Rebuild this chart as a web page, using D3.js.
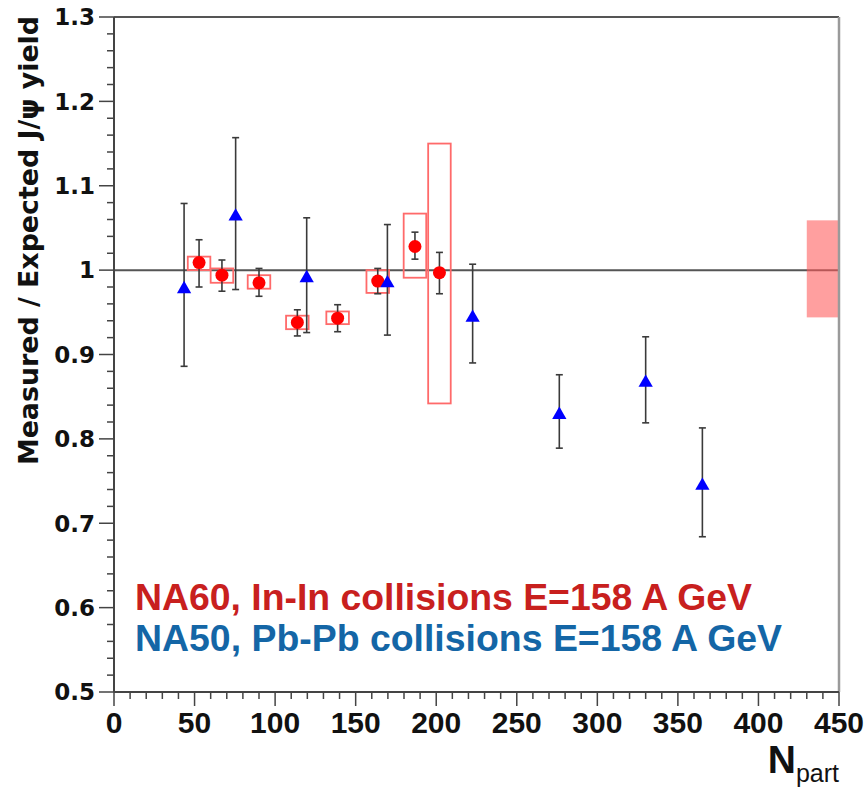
<!DOCTYPE html>
<html>
<head>
<meta charset="utf-8">
<script src="https://cdn.jsdelivr.net/npm/d3@7"></script>
<style>
  body { margin: 0; background: #fff; }
  svg { display: block; }
</style>
</head>
<body>
<div id="chart"></div>
<script>
// NA50 Pb-Pb points (blue triangles)
const na50Npart = [43.5, 75.5, 119.6, 169.7, 222.6, 276.4, 330, 365.2];
const na50Ratio = [0.980, 1.066, 0.993, 0.987, 0.946, 0.831, 0.869, 0.747];
const na50ErrHi = [1.079, 1.157, 1.062, 1.054, 1.007, 0.876, 0.921, 0.813];
const na50ErrLo = [0.886, 0.977, 0.926, 0.923, 0.890, 0.789, 0.819, 0.684];

// NA60 In-In points (red circles) with systematic boxes
const na60Npart = [52.8, 67, 90, 113.8, 138.8, 163.7, 186.8, 202];
const na60Ratio = [1.009, 0.994, 0.985, 0.938, 0.943, 0.987, 1.028, 0.997];
const na60ErrHi = [1.036, 1.012, 1.002, 0.953, 0.959, 1.002, 1.045, 1.021];
const na60ErrLo = [0.980, 0.975, 0.969, 0.922, 0.927, 0.972, 1.013, 0.972];
const na60SysHi = [1.016, 1.002, 0.994, 0.946, 0.951, 1.000, 1.067, 1.150];
const na60SysLo = [1.000, 0.985, 0.978, 0.930, 0.936, 0.973, 0.991, 0.842];

// global normalisation uncertainty band
const bandNpart = [430, 450];
const bandRatio = [0.944, 1.059];

const xTicks = [0, 50, 100, 150, 200, 250, 300, 350, 400, 450];
const yTicks = [0.5, 0.6, 0.7, 0.8, 0.9, 1, 1.1, 1.2, 1.3];
const legendLines = [
  'NA60, In-In collisions E=158 A GeV',
  'NA50, Pb-Pb collisions E=158 A GeV'
];

const W = 867, H = 788;
const margin = { top: 17, right: 28, bottom: 96, left: 114 };
const iw = W - margin.left - margin.right;
const ih = H - margin.top - margin.bottom;

const svg = d3.select('#chart').append('svg')
  .attr('width', W)
  .attr('height', H);

const g = svg.append('g')
  .attr('transform', `translate(${margin.left},${margin.top})`);

const x = d3.scaleLinear().domain([0, 450]).range([0, iw]);
const y = d3.scaleLinear().domain([0.5, 1.3]).range([ih, 0]);

const na50 = na50Npart.map((n, i) => ({ n, r: na50Ratio[i], hi: na50ErrHi[i], lo: na50ErrLo[i] }));
const na60 = na60Npart.map((n, i) => ({
  n, r: na60Ratio[i], hi: na60ErrHi[i], lo: na60ErrLo[i], sHi: na60SysHi[i], sLo: na60SysLo[i]
}));

// reference line at 1
g.append('line')
  .attr('x1', 0).attr('x2', iw)
  .attr('y1', y(1)).attr('y2', y(1))
  .attr('stroke', '#555').attr('stroke-width', 2);

// normalisation band, drawn over the line like the original
g.append('rect')
  .attr('x', x(bandNpart[0]))
  .attr('y', y(bandRatio[1]))
  .attr('width', x(bandNpart[1]) - x(bandNpart[0]))
  .attr('height', y(bandRatio[0]) - y(bandRatio[1]))
  .attr('fill', '#ff5a5a')
  .attr('fill-opacity', 0.58);

// NA60 systematic boxes
const boxHalf = 7;
g.selectAll('.sys')
  .data(na60)
  .join('rect')
  .attr('class', 'sys')
  .attr('x', d => x(d.n - boxHalf))
  .attr('y', d => y(d.sHi))
  .attr('width', x(2 * boxHalf) - x(0))
  .attr('height', d => y(d.sLo) - y(d.sHi))
  .attr('fill', 'none')
  .attr('stroke', '#ff6a6a')
  .attr('stroke-width', 1.8);

// error bars for both data sets
function errorBars(data, cls) {
  const eb = g.selectAll('.' + cls)
    .data(data)
    .join('g')
    .attr('class', cls)
    .attr('stroke', '#3a3a3a')
    .attr('stroke-width', 1.6);
  eb.append('line')
    .attr('x1', d => x(d.n)).attr('x2', d => x(d.n))
    .attr('y1', d => y(d.hi)).attr('y2', d => y(d.lo));
  eb.append('line')
    .attr('x1', d => x(d.n) - 3.5).attr('x2', d => x(d.n) + 3.5)
    .attr('y1', d => y(d.hi)).attr('y2', d => y(d.hi));
  eb.append('line')
    .attr('x1', d => x(d.n) - 3.5).attr('x2', d => x(d.n) + 3.5)
    .attr('y1', d => y(d.lo)).attr('y2', d => y(d.lo));
}
errorBars(na50, 'err50');
errorBars(na60, 'err60');

// NA60 red circles
g.selectAll('.pt60')
  .data(na60)
  .join('circle')
  .attr('class', 'pt60')
  .attr('cx', d => x(d.n))
  .attr('cy', d => y(d.r))
  .attr('r', 6.5)
  .attr('fill', '#ff0000');

// NA50 blue triangles (shifted so the bounding box is centred on the point)
const triSize = 88;
const triShift = Math.sqrt(triSize / (3 * Math.sqrt(3))) / 2;
g.selectAll('.pt50')
  .data(na50)
  .join('path')
  .attr('class', 'pt50')
  .attr('d', d3.symbol(d3.symbolTriangle, triSize))
  .attr('transform', d => `translate(${x(d.n)},${y(d.r) + triShift})`)
  .attr('fill', '#0000ff');

// frame: top and right
g.append('line')
  .attr('x1', 0).attr('x2', iw).attr('y1', 0).attr('y2', 0)
  .attr('stroke', '#555').attr('stroke-width', 2);
g.append('line')
  .attr('x1', iw).attr('x2', iw).attr('y1', 0).attr('y2', ih)
  .attr('stroke', '#9a9a9a').attr('stroke-width', 2.5);

// x axis with minor ticks
const xMinor = d3.range(0, 451, 10).filter(v => v % 50 !== 0);
const xAxis = g.append('g').attr('transform', `translate(0,${ih})`);
xAxis.append('line')
  .attr('x1', 0).attr('x2', iw)
  .attr('stroke', '#444').attr('stroke-width', 2);
xAxis.selectAll('.xminor').data(xMinor).join('line')
  .attr('class', 'xminor')
  .attr('x1', d => x(d)).attr('x2', d => x(d))
  .attr('y1', 0).attr('y2', 7)
  .attr('stroke', '#444').attr('stroke-width', 1.5);
xAxis.selectAll('.xmajor').data(xTicks).join('line')
  .attr('class', 'xmajor')
  .attr('x1', d => x(d)).attr('x2', d => x(d))
  .attr('y1', 0).attr('y2', 14)
  .attr('stroke', '#444').attr('stroke-width', 1.5);
xAxis.selectAll('.xlab').data(xTicks).join('text')
  .attr('class', 'xlab')
  .attr('x', d => x(d))
  .attr('y', 41)
  .attr('text-anchor', 'middle')
  .style('font-family', 'Liberation Sans, Arial, sans-serif')
  .style('font-weight', 'bold')
  .style('font-size', '30px')
  .attr('fill', '#111')
  .text(d => d);

// y axis with minor ticks
const yMinor = d3.range(0, 41).map(i => 0.5 + i * 0.02).filter((v, i) => i % 5 !== 0);
const yAxis = g.append('g');
yAxis.append('line')
  .attr('y1', 0).attr('y2', ih)
  .attr('stroke', '#444').attr('stroke-width', 2);
yAxis.selectAll('.yminor').data(yMinor).join('line')
  .attr('class', 'yminor')
  .attr('y1', d => y(d)).attr('y2', d => y(d))
  .attr('x1', -7).attr('x2', 0)
  .attr('stroke', '#444').attr('stroke-width', 1.5);
yAxis.selectAll('.ymajor').data(yTicks).join('line')
  .attr('class', 'ymajor')
  .attr('y1', d => y(d)).attr('y2', d => y(d))
  .attr('x1', -15).attr('x2', 0)
  .attr('stroke', '#444').attr('stroke-width', 1.5);
yAxis.selectAll('.ylab').data(yTicks).join('text')
  .attr('class', 'ylab')
  .attr('x', -19)
  .attr('y', d => y(d))
  .attr('dy', '0.36em')
  .attr('text-anchor', 'end')
  .style('font-family', 'DejaVu Sans, sans-serif')
  .style('font-weight', 'bold')
  .style('font-size', '23px')
  .attr('fill', '#111')
  .text(d => d === 1 ? '1' : d.toFixed(1));

// axis titles
svg.append('text')
  .attr('transform', `translate(38,16) rotate(-90)`)
  .attr('text-anchor', 'end')
  .attr('textLength', 449)
  .attr('lengthAdjust', 'spacingAndGlyphs')
  .style('font-family', 'DejaVu Sans, sans-serif')
  .style('font-weight', 'bold')
  .style('font-size', '26px')
  .attr('fill', '#111')
  .text('Measured / Expected J/\u03c8 yield');

const xTitle = svg.append('text')
  .attr('x', margin.left + iw)
  .attr('y', 773)
  .attr('text-anchor', 'end')
  .style('font-family', 'Liberation Sans, Arial, sans-serif')
  .style('font-weight', 'bold')
  .attr('fill', '#111');
xTitle.append('tspan').style('font-size', '39px').text('N');
xTitle.append('tspan').style('font-size', '25px').style('font-weight', 'normal')
  .attr('dy', 9).text('part');

// legend text
const legendColors = ['#c8201e', '#1466a6'];
const legendWidths = [617, 647];
svg.selectAll('.legend')
  .data(legendLines)
  .join('text')
  .attr('class', 'legend')
  .attr('x', 135)
  .attr('y', (d, i) => 610 + i * 41)
  .attr('textLength', (d, i) => legendWidths[i])
  .attr('lengthAdjust', 'spacingAndGlyphs')
  .style('font-family', 'Liberation Sans, Arial, sans-serif')
  .style('font-weight', 'bold')
  .style('font-size', '36px')
  .attr('fill', (d, i) => legendColors[i])
  .text(d => d);
</script>
</body>
</html>
